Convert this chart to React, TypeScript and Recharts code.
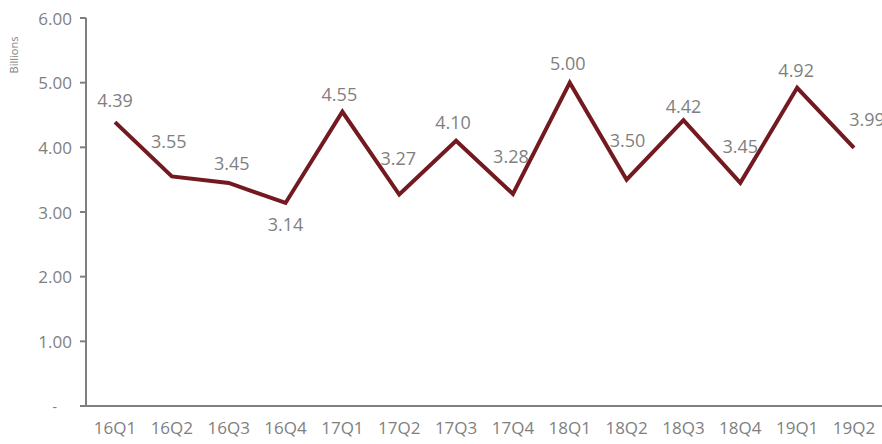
import React from 'react';
import { LineChart, Line, XAxis, YAxis, LabelList } from 'recharts';

const quarters = ['16Q1','16Q2','16Q3','16Q4','17Q1','17Q2','17Q3','17Q4','18Q1','18Q2','18Q3','18Q4','19Q1','19Q2'];
const values = [4.39,3.55,3.45,3.14,4.55,3.27,4.10,3.28,5.00,3.50,4.42,3.45,4.92,3.99];
const yTicks = [0,1,2,3,4,5,6];
// label placement: distance above the point (negative = below) and sideways nudge
const labelLift = [22,35,20,-21,18,37,19,38,20,40,14,37,18,29];
const labelNudge = [0,-3,3,0,-3,-1,-3,-2,-2,1,0,0,-1,13];

const data = quarters.map((q, i) => ({ q, v: values[i] }));

const GRAY = '#7f7f7f';
const FONT = '"Open Sans", "Noto Sans", sans-serif';

const ValueLabel = (props: any) => {
  const { x, y, value, index } = props;
  const lift = labelLift[index] ?? 24;
  const nudge = labelNudge[index] ?? 0;
  return (
    <text x={x + nudge} y={y - lift} textAnchor="middle" dominantBaseline="central" fill={GRAY} fontSize={18} fontFamily={FONT}>
      {Number(value).toFixed(2)}
    </text>
  );
};

const YTick = (props: any) => {
  const { x, y, payload } = props;
  const v = payload.value;
  if (v === 0) {
    return (
      <text x={x - 15} y={y} textAnchor="end" dominantBaseline="central" fill={GRAY} fontSize={14} fontFamily={FONT}>-</text>
    );
  }
  return (
    <text x={x} y={y} textAnchor="end" dominantBaseline="central" fill={GRAY} fontSize={17} fontFamily={FONT}>{v.toFixed(2)}</text>
  );
};

export default function App() {
  return (
    <div style={{ position: 'absolute', left: 0, top: 0, width: 882, height: 444, background: '#fff', fontFamily: FONT }}>
      <div style={{ position: 'absolute', left: 13, top: 55, transform: 'translate(-50%, -50%) rotate(-90deg)', fontSize: 11, color: GRAY, whiteSpace: 'nowrap' }}>Billions</div>
      <LineChart width={882} height={444} data={data} margin={{ top: 18, right: 0, bottom: 8, left: 0 }}>
        <XAxis dataKey="q" padding={{ left: 29, right: 28 }} tickLine={false} axisLine={{ stroke: GRAY, strokeWidth: 2 }} tick={{ fill: GRAY, fontSize: 17, fontFamily: FONT }} tickMargin={10} height={30} interval={0} />
        <YAxis domain={[0, 6]} ticks={yTicks} width={86} tickSize={6} tickLine={{ stroke: GRAY, strokeWidth: 2 }} axisLine={{ stroke: GRAY, strokeWidth: 2 }} tick={<YTick />} tickMargin={8} />
        <Line dataKey="v" stroke="#ffffff" strokeWidth={6.5} dot={false} isAnimationActive={false} />
        <Line dataKey="v" stroke="#731920" strokeWidth={4} dot={false} isAnimationActive={false}>
          <LabelList dataKey="v" content={<ValueLabel />} />
        </Line>
      </LineChart>
    </div>
  );
}
